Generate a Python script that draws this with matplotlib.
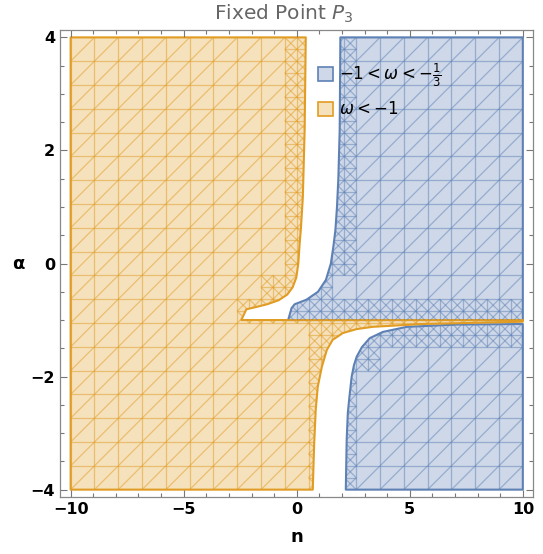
import numpy as np
import matplotlib.pyplot as plt
from matplotlib.patches import Polygon, Patch
from matplotlib.path import Path
from matplotlib.collections import LineCollection
from matplotlib.ticker import MultipleLocator
from matplotlib.colors import to_rgba

# region boundaries (n, alpha)
# omega < -1 : upper branch, from alpha=4 down to the alpha=-1 line
orange_up_n = [0.40, 0.35, 0.27, 0.18, 0.13, 0.07, -0.02, -0.18, -0.42, -0.80, -1.30, -1.80, -2.23, -2.45]
orange_up_a = [4.00, 2.36, 1.17, 0.59, 0.36, 0.00, -0.25, -0.42, -0.55, -0.65, -0.72, -0.77, -0.81, -1.00]
# omega < -1 : lower branch, from n=10 just under alpha=-1 down to alpha=-4
orange_lo_n = [10.0, 5.58, 3.36, 2.65, 2.04, 1.59, 1.33, 1.11, 0.93, 0.84, 0.77, 0.71]
orange_lo_a = [-1.03, -1.07, -1.12, -1.16, -1.23, -1.35, -1.53, -1.83, -2.18, -2.59, -3.20, -4.00]

# -1 < omega < -1/3 : upper piece
blue_up_n = [1.93, 1.90, 1.84, 1.78, 1.71, 1.62, 1.51, 1.29, 0.94, 0.43, -0.09, -0.23, -0.38]
blue_up_a = [4.00, 2.36, 1.50, 1.00, 0.59, 0.30, 0.00, -0.29, -0.50, -0.64, -0.72, -0.79, -1.00]
# -1 < omega < -1/3 : lower piece
blue_lo_n = [10.0, 7.08, 4.87, 3.81, 3.23, 2.88, 2.65, 2.53, 2.43, 2.33, 2.26, 2.21, 2.17]
blue_lo_a = [-1.07, -1.08, -1.12, -1.21, -1.32, -1.48, -1.65, -1.80, -2.00, -2.36, -2.64, -3.10, -4.00]

n_min, n_max = -10, 10
a_min, a_max = -4, 4
a_line = -1

labels = [r"$-1<\omega<-\frac{1}{3}$", r"$\omega<-1$"]

ORANGE = (0.880722, 0.611041, 0.142051)
BLUE = (0.368417, 0.506779, 0.709798)


def region_polys():
    orange = [(n_min, a_max)] + list(zip(orange_up_n, orange_up_a)) + [(n_max, a_line)] \
        + list(zip(orange_lo_n, orange_lo_a)) + [(n_min, a_min)]
    blue_top = [(n_max, a_max)] + list(zip(blue_up_n, blue_up_a)) + [(n_max, a_line)]
    blue_bot = list(zip(blue_lo_n, blue_lo_a)) + [(n_max, a_min)]
    return orange, [blue_top, blue_bot]


def draw_mesh(ax, patch, pts, color):
    # PlotPoints-like triangulated grid, refined where the boundary crosses
    path = Path(pts)
    xs = np.linspace(n_min, n_max, 20)
    ys = np.linspace(a_min, a_max, 20)
    dx, dy = xs[1] - xs[0], ys[1] - ys[0]
    segs = []
    for x in xs:
        segs.append([(x, a_min), (x, a_max)])
    for y in ys:
        segs.append([(n_min, y), (n_max, y)])
    for x0 in xs[:-1]:
        for y0 in ys[:-1]:
            x1, y1 = x0 + dx, y0 + dy
            segs.append([(x0, y0), (x1, y1)])
            sx = np.clip(np.linspace(x0 - 0.1 * dx, x1 + 0.1 * dx, 7), n_min + 0.02, n_max - 0.02)
            sy = np.clip(np.linspace(y0 - 0.1 * dy, y1 + 0.1 * dy, 7), a_min + 0.02, a_max - 0.02)
            gx, gy = np.meshgrid(sx, sy)
            inside = path.contains_points(np.c_[gx.ravel(), gy.ravel()])
            if inside.any() and not inside.all():
                xm, ym = x0 + dx / 2, y0 + dy / 2
                segs += [[(xm, y0), (xm, y1)], [(x0, ym), (x1, ym)],
                         [(x0, y1), (x1, y0)],
                         [(xm, y0), (x1, ym)], [(x1, ym), (xm, y1)],
                         [(xm, y1), (x0, ym)], [(x0, ym), (xm, y0)]]
    lc = LineCollection(segs, colors=[to_rgba(color, 0.5)], linewidths=0.9)
    ax.add_collection(lc)
    lc.set_clip_path(patch)


fig = plt.figure(figsize=(5.43, 5.54), dpi=100)
ax = fig.add_axes([0.1105, 0.1029, 0.8711, 0.8429])

orange_pts, blue_list = region_polys()

for pts in blue_list:
    p = Polygon(pts, closed=True, facecolor=to_rgba(BLUE, 0.3), edgecolor='none')
    ax.add_patch(p)
    draw_mesh(ax, p, pts, BLUE)
    ax.add_patch(Polygon(pts, closed=True, facecolor='none', edgecolor=BLUE, lw=1.5, joinstyle='round'))

p = Polygon(orange_pts, closed=True, facecolor=to_rgba(ORANGE, 0.3), edgecolor='none')
ax.add_patch(p)
draw_mesh(ax, p, orange_pts, ORANGE)
ax.add_patch(Polygon(orange_pts, closed=True, facecolor='none', edgecolor=ORANGE, lw=1.5, joinstyle='round'))

ax.set_xlim(-10.47, 10.45)
ax.set_ylim(-4.13, 4.13)

ax.xaxis.set_major_locator(MultipleLocator(5))
ax.xaxis.set_minor_locator(MultipleLocator(1))
ax.yaxis.set_major_locator(MultipleLocator(2))
ax.yaxis.set_minor_locator(MultipleLocator(0.5))
ax.tick_params(which='both', direction='in', top=True, right=True, color='#777777', width=0.8)
ax.tick_params(which='major', length=5)
ax.tick_params(which='minor', length=3)
for lab in ax.get_xticklabels() + ax.get_yticklabels():
    lab.set_fontweight('bold')
    lab.set_fontsize(11.5)
for s in ax.spines.values():
    s.set_color('#888888')
    s.set_linewidth(0.9)

fig.text(284 / 543, 1 - 14 / 554, r"Fixed Point $P_3$", color='#666666', fontsize=14.5,
         ha='center', va='center')
ax.set_xlabel('n', fontsize=13, fontweight='bold', va='center')
ax.xaxis.set_label_coords(0.5, -0.086)
ax.set_ylabel(r'$\mathbf{\alpha}$', fontsize=13, fontweight='bold', rotation=0, va='center', ha='center')
ax.yaxis.set_label_coords(-0.088, 0.5)

handles = [Patch(facecolor=to_rgba(BLUE, 0.3), edgecolor=BLUE, lw=1.2),
           Patch(facecolor=to_rgba(ORANGE, 0.3), edgecolor=ORANGE, lw=1.2)]
ax.legend(handles, labels, loc='upper left', bbox_to_anchor=(0.513, 0.965), frameon=False,
          fontsize=12, handlelength=0.9, handleheight=0.9, handletextpad=0.4, labelspacing=0.7)

fig.savefig('out.png', dpi=100)
